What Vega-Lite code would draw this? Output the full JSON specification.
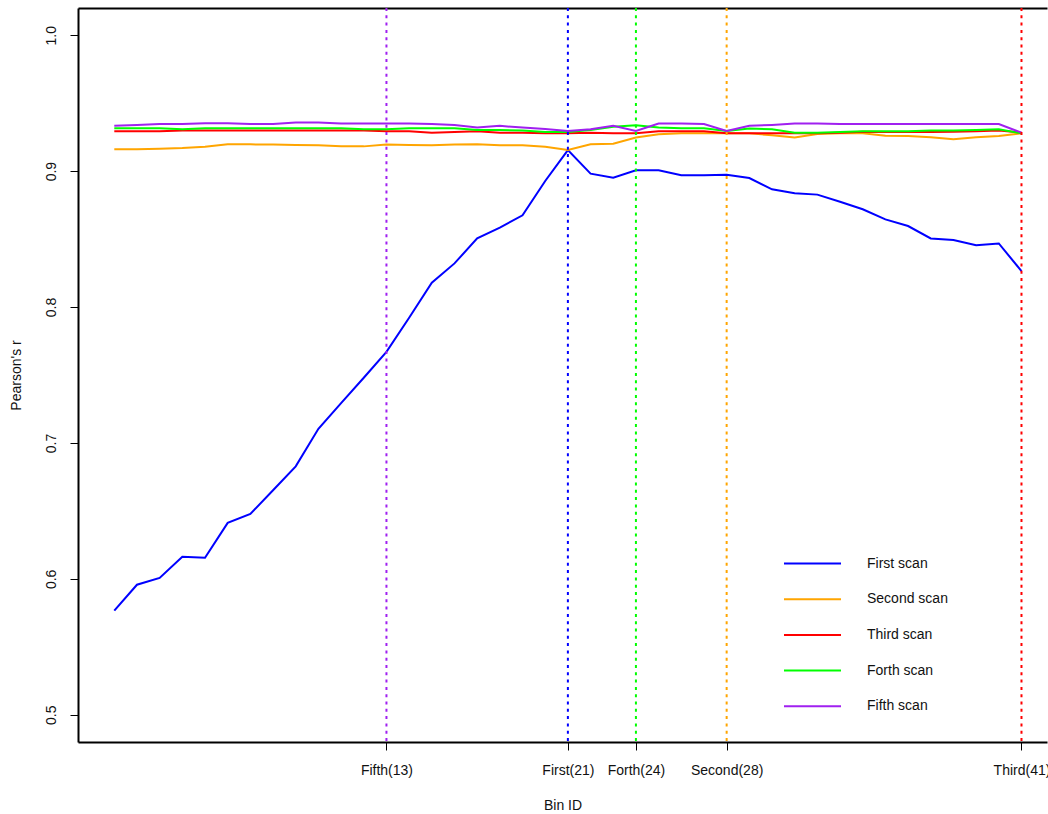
{
  "$schema": "https://vega.github.io/schema/vega-lite/v6.json",
  "autosize": {"type": "none"},
  "padding": {"left": 78, "top": 8, "right": 1, "bottom": 72},
  "width": 969,
  "height": 734,
  "config": {
    "font": "Liberation Sans",
    "view": {"stroke": null},
    "axis": {"grid": false, "domainColor": "#000", "domainWidth": 2, "tickColor": "#000", "tickWidth": 1, "tickSize": 8, "labelFont": "Liberation Sans", "labelFontSize": 14, "labelColor": "#111", "titleFont": "Liberation Sans", "titleFontSize": 14, "titleFontWeight": "normal", "titleColor": "#111"},
    "legend": {"labelFont": "Liberation Sans", "labelFontSize": 14, "labelColor": "#111"}
  },
  "datasets": {
    "scans": [
      {"bin":1,"scan":"First scan","r":0.5766},{"bin":2,"scan":"First scan","r":0.5957},{"bin":3,"scan":"First scan","r":0.6007},{"bin":4,"scan":"First scan","r":0.6163},{"bin":5,"scan":"First scan","r":0.6156},{"bin":6,"scan":"First scan","r":0.6412},{"bin":7,"scan":"First scan","r":0.6478},{"bin":8,"scan":"First scan","r":0.6652},{"bin":9,"scan":"First scan","r":0.6828},{"bin":10,"scan":"First scan","r":0.7104},{"bin":11,"scan":"First scan","r":0.7293},{"bin":12,"scan":"First scan","r":0.748},{"bin":13,"scan":"First scan","r":0.767},{"bin":14,"scan":"First scan","r":0.7921},{"bin":15,"scan":"First scan","r":0.8179},{"bin":16,"scan":"First scan","r":0.8321},{"bin":17,"scan":"First scan","r":0.8505},{"bin":18,"scan":"First scan","r":0.8584},{"bin":19,"scan":"First scan","r":0.8675},{"bin":20,"scan":"First scan","r":0.8927},{"bin":21,"scan":"First scan","r":0.9155},{"bin":22,"scan":"First scan","r":0.8981},{"bin":23,"scan":"First scan","r":0.8952},{"bin":24,"scan":"First scan","r":0.9006},{"bin":25,"scan":"First scan","r":0.9006},{"bin":26,"scan":"First scan","r":0.8969},{"bin":27,"scan":"First scan","r":0.8969},{"bin":28,"scan":"First scan","r":0.8974},{"bin":29,"scan":"First scan","r":0.8949},{"bin":30,"scan":"First scan","r":0.8866},{"bin":31,"scan":"First scan","r":0.8837},{"bin":32,"scan":"First scan","r":0.8827},{"bin":33,"scan":"First scan","r":0.8775},{"bin":34,"scan":"First scan","r":0.8719},{"bin":35,"scan":"First scan","r":0.8645},{"bin":36,"scan":"First scan","r":0.8596},{"bin":37,"scan":"First scan","r":0.8505},{"bin":38,"scan":"First scan","r":0.8493},{"bin":39,"scan":"First scan","r":0.8454},{"bin":40,"scan":"First scan","r":0.8468},{"bin":41,"scan":"First scan","r":0.8264},
      {"bin":1,"scan":"Second scan","r":0.9161},{"bin":2,"scan":"Second scan","r":0.9161},{"bin":3,"scan":"Second scan","r":0.9165},{"bin":4,"scan":"Second scan","r":0.917},{"bin":5,"scan":"Second scan","r":0.918},{"bin":6,"scan":"Second scan","r":0.9197},{"bin":7,"scan":"Second scan","r":0.9197},{"bin":8,"scan":"Second scan","r":0.9195},{"bin":9,"scan":"Second scan","r":0.9192},{"bin":10,"scan":"Second scan","r":0.919},{"bin":11,"scan":"Second scan","r":0.9183},{"bin":12,"scan":"Second scan","r":0.9182},{"bin":13,"scan":"Second scan","r":0.9195},{"bin":14,"scan":"Second scan","r":0.9192},{"bin":15,"scan":"Second scan","r":0.919},{"bin":16,"scan":"Second scan","r":0.9195},{"bin":17,"scan":"Second scan","r":0.9198},{"bin":18,"scan":"Second scan","r":0.919},{"bin":19,"scan":"Second scan","r":0.919},{"bin":20,"scan":"Second scan","r":0.918},{"bin":21,"scan":"Second scan","r":0.9155},{"bin":22,"scan":"Second scan","r":0.9197},{"bin":23,"scan":"Second scan","r":0.9202},{"bin":24,"scan":"Second scan","r":0.9247},{"bin":25,"scan":"Second scan","r":0.9271},{"bin":26,"scan":"Second scan","r":0.9278},{"bin":27,"scan":"Second scan","r":0.9278},{"bin":28,"scan":"Second scan","r":0.9278},{"bin":29,"scan":"Second scan","r":0.9278},{"bin":30,"scan":"Second scan","r":0.9264},{"bin":31,"scan":"Second scan","r":0.9247},{"bin":32,"scan":"Second scan","r":0.9273},{"bin":33,"scan":"Second scan","r":0.9278},{"bin":34,"scan":"Second scan","r":0.9278},{"bin":35,"scan":"Second scan","r":0.9261},{"bin":36,"scan":"Second scan","r":0.9259},{"bin":37,"scan":"Second scan","r":0.9249},{"bin":38,"scan":"Second scan","r":0.9234},{"bin":39,"scan":"Second scan","r":0.9249},{"bin":40,"scan":"Second scan","r":0.9259},{"bin":41,"scan":"Second scan","r":0.9278},
      {"bin":1,"scan":"Third scan","r":0.9293},{"bin":2,"scan":"Third scan","r":0.9293},{"bin":3,"scan":"Third scan","r":0.9293},{"bin":4,"scan":"Third scan","r":0.9298},{"bin":5,"scan":"Third scan","r":0.9298},{"bin":6,"scan":"Third scan","r":0.9298},{"bin":7,"scan":"Third scan","r":0.9298},{"bin":8,"scan":"Third scan","r":0.9298},{"bin":9,"scan":"Third scan","r":0.9298},{"bin":10,"scan":"Third scan","r":0.9298},{"bin":11,"scan":"Third scan","r":0.9298},{"bin":12,"scan":"Third scan","r":0.9298},{"bin":13,"scan":"Third scan","r":0.9293},{"bin":14,"scan":"Third scan","r":0.9293},{"bin":15,"scan":"Third scan","r":0.9283},{"bin":16,"scan":"Third scan","r":0.9288},{"bin":17,"scan":"Third scan","r":0.9293},{"bin":18,"scan":"Third scan","r":0.9283},{"bin":19,"scan":"Third scan","r":0.9283},{"bin":20,"scan":"Third scan","r":0.9278},{"bin":21,"scan":"Third scan","r":0.9278},{"bin":22,"scan":"Third scan","r":0.9283},{"bin":23,"scan":"Third scan","r":0.9278},{"bin":24,"scan":"Third scan","r":0.9278},{"bin":25,"scan":"Third scan","r":0.9293},{"bin":26,"scan":"Third scan","r":0.9293},{"bin":27,"scan":"Third scan","r":0.9293},{"bin":28,"scan":"Third scan","r":0.9278},{"bin":29,"scan":"Third scan","r":0.9278},{"bin":30,"scan":"Third scan","r":0.9278},{"bin":31,"scan":"Third scan","r":0.9278},{"bin":32,"scan":"Third scan","r":0.9278},{"bin":33,"scan":"Third scan","r":0.9283},{"bin":34,"scan":"Third scan","r":0.929},{"bin":35,"scan":"Third scan","r":0.9288},{"bin":36,"scan":"Third scan","r":0.9288},{"bin":37,"scan":"Third scan","r":0.9288},{"bin":38,"scan":"Third scan","r":0.929},{"bin":39,"scan":"Third scan","r":0.9293},{"bin":40,"scan":"Third scan","r":0.9298},{"bin":41,"scan":"Third scan","r":0.9283},
      {"bin":1,"scan":"Forth scan","r":0.9315},{"bin":2,"scan":"Forth scan","r":0.9315},{"bin":3,"scan":"Forth scan","r":0.9315},{"bin":4,"scan":"Forth scan","r":0.9308},{"bin":5,"scan":"Forth scan","r":0.9315},{"bin":6,"scan":"Forth scan","r":0.9315},{"bin":7,"scan":"Forth scan","r":0.9315},{"bin":8,"scan":"Forth scan","r":0.9315},{"bin":9,"scan":"Forth scan","r":0.9315},{"bin":10,"scan":"Forth scan","r":0.9315},{"bin":11,"scan":"Forth scan","r":0.9315},{"bin":12,"scan":"Forth scan","r":0.9308},{"bin":13,"scan":"Forth scan","r":0.9308},{"bin":14,"scan":"Forth scan","r":0.9315},{"bin":15,"scan":"Forth scan","r":0.9315},{"bin":16,"scan":"Forth scan","r":0.9315},{"bin":17,"scan":"Forth scan","r":0.9303},{"bin":18,"scan":"Forth scan","r":0.9303},{"bin":19,"scan":"Forth scan","r":0.9298},{"bin":20,"scan":"Forth scan","r":0.9288},{"bin":21,"scan":"Forth scan","r":0.9288},{"bin":22,"scan":"Forth scan","r":0.9303},{"bin":23,"scan":"Forth scan","r":0.9327},{"bin":24,"scan":"Forth scan","r":0.9337},{"bin":25,"scan":"Forth scan","r":0.932},{"bin":26,"scan":"Forth scan","r":0.9315},{"bin":27,"scan":"Forth scan","r":0.9315},{"bin":28,"scan":"Forth scan","r":0.9295},{"bin":29,"scan":"Forth scan","r":0.9313},{"bin":30,"scan":"Forth scan","r":0.9308},{"bin":31,"scan":"Forth scan","r":0.9283},{"bin":32,"scan":"Forth scan","r":0.9283},{"bin":33,"scan":"Forth scan","r":0.9288},{"bin":34,"scan":"Forth scan","r":0.9293},{"bin":35,"scan":"Forth scan","r":0.9293},{"bin":36,"scan":"Forth scan","r":0.9293},{"bin":37,"scan":"Forth scan","r":0.9298},{"bin":38,"scan":"Forth scan","r":0.9298},{"bin":39,"scan":"Forth scan","r":0.9303},{"bin":40,"scan":"Forth scan","r":0.9308},{"bin":41,"scan":"Forth scan","r":0.9278},
      {"bin":1,"scan":"Fifth scan","r":0.9333},{"bin":2,"scan":"Fifth scan","r":0.934},{"bin":3,"scan":"Fifth scan","r":0.9347},{"bin":4,"scan":"Fifth scan","r":0.9347},{"bin":5,"scan":"Fifth scan","r":0.9352},{"bin":6,"scan":"Fifth scan","r":0.9352},{"bin":7,"scan":"Fifth scan","r":0.9347},{"bin":8,"scan":"Fifth scan","r":0.9347},{"bin":9,"scan":"Fifth scan","r":0.9357},{"bin":10,"scan":"Fifth scan","r":0.9357},{"bin":11,"scan":"Fifth scan","r":0.935},{"bin":12,"scan":"Fifth scan","r":0.935},{"bin":13,"scan":"Fifth scan","r":0.935},{"bin":14,"scan":"Fifth scan","r":0.935},{"bin":15,"scan":"Fifth scan","r":0.9347},{"bin":16,"scan":"Fifth scan","r":0.934},{"bin":17,"scan":"Fifth scan","r":0.932},{"bin":18,"scan":"Fifth scan","r":0.9333},{"bin":19,"scan":"Fifth scan","r":0.932},{"bin":20,"scan":"Fifth scan","r":0.931},{"bin":21,"scan":"Fifth scan","r":0.9295},{"bin":22,"scan":"Fifth scan","r":0.9308},{"bin":23,"scan":"Fifth scan","r":0.9333},{"bin":24,"scan":"Fifth scan","r":0.9295},{"bin":25,"scan":"Fifth scan","r":0.935},{"bin":26,"scan":"Fifth scan","r":0.935},{"bin":27,"scan":"Fifth scan","r":0.9347},{"bin":28,"scan":"Fifth scan","r":0.9295},{"bin":29,"scan":"Fifth scan","r":0.9333},{"bin":30,"scan":"Fifth scan","r":0.934},{"bin":31,"scan":"Fifth scan","r":0.935},{"bin":32,"scan":"Fifth scan","r":0.935},{"bin":33,"scan":"Fifth scan","r":0.9347},{"bin":34,"scan":"Fifth scan","r":0.9347},{"bin":35,"scan":"Fifth scan","r":0.9347},{"bin":36,"scan":"Fifth scan","r":0.9347},{"bin":37,"scan":"Fifth scan","r":0.9347},{"bin":38,"scan":"Fifth scan","r":0.9347},{"bin":39,"scan":"Fifth scan","r":0.9347},{"bin":40,"scan":"Fifth scan","r":0.9347},{"bin":41,"scan":"Fifth scan","r":0.9283}
    ],
    "best": [
      {"bin":13,"scan":"Fifth scan"},
      {"bin":21,"scan":"First scan"},
      {"bin":24,"scan":"Forth scan"},
      {"bin":28,"scan":"Second scan"},
      {"bin":41,"scan":"Third scan"}
    ]
  },
  "resolve": {"axis": {"x": "independent"}},
  "layer": [
    {
      "data": {"name": "scans"},
      "mark": {"type": "line", "strokeWidth": 2, "clip": true},
      "encoding": {
        "x": {"field": "bin", "type": "quantitative",
              "scale": {"domain": [-0.6, 42.125], "nice": false, "zero": false},
              "axis": {"orient": "bottom", "values": [13, 21, 24, 28, 41],
                       "labelExpr": "datum.value == 13 ? 'Fifth(13)' : datum.value == 21 ? 'First(21)' : datum.value == 24 ? 'Forth(24)' : datum.value == 28 ? 'Second(28)' : 'Third(41)'",
                       "labelPadding": 13, "labelFlush": false, "labelOverlap": false, "title": "Bin ID", "titlePadding": 21}},
        "y": {"field": "r", "type": "quantitative",
              "scale": {"domain": [0.48, 1.02], "nice": false, "zero": false},
              "axis": {"values": [0.5, 0.6, 0.7, 0.8, 0.9, 1.0], "format": ".1f", "labelAngle": -90, "labelPadding": 12, "title": "Pearson's r", "titlePadding": 21}},
        "color": {"field": "scan", "type": "nominal",
                  "scale": {"domain": ["First scan", "Second scan", "Third scan", "Forth scan", "Fifth scan"],
                            "range": ["#0000ff", "#ffa500", "#ff0000", "#00ff00", "#a020f0"]},
                  "legend": {"orient": "none", "legendX": 722, "legendY": 543, "title": null,
                             "symbolType": "M-2.5,0L2.5,0", "symbolSize": 520, "symbolStrokeWidth": 2, "symbolFillColor": "transparent",
                             "labelOffset": 42, "rowPadding": 15.7}}
      }
    },
    {
      "data": {"name": "best"},
      "mark": {"type": "rule", "strokeWidth": 2, "strokeDash": [3, 4.3]},
      "encoding": {
        "x": {"field": "bin", "type": "quantitative",
              "axis": {"orient": "top", "labels": false, "ticks": false, "title": null, "domain": true}},
        "color": {"field": "scan", "type": "nominal", "legend": null}
      }
    }
  ]
}
